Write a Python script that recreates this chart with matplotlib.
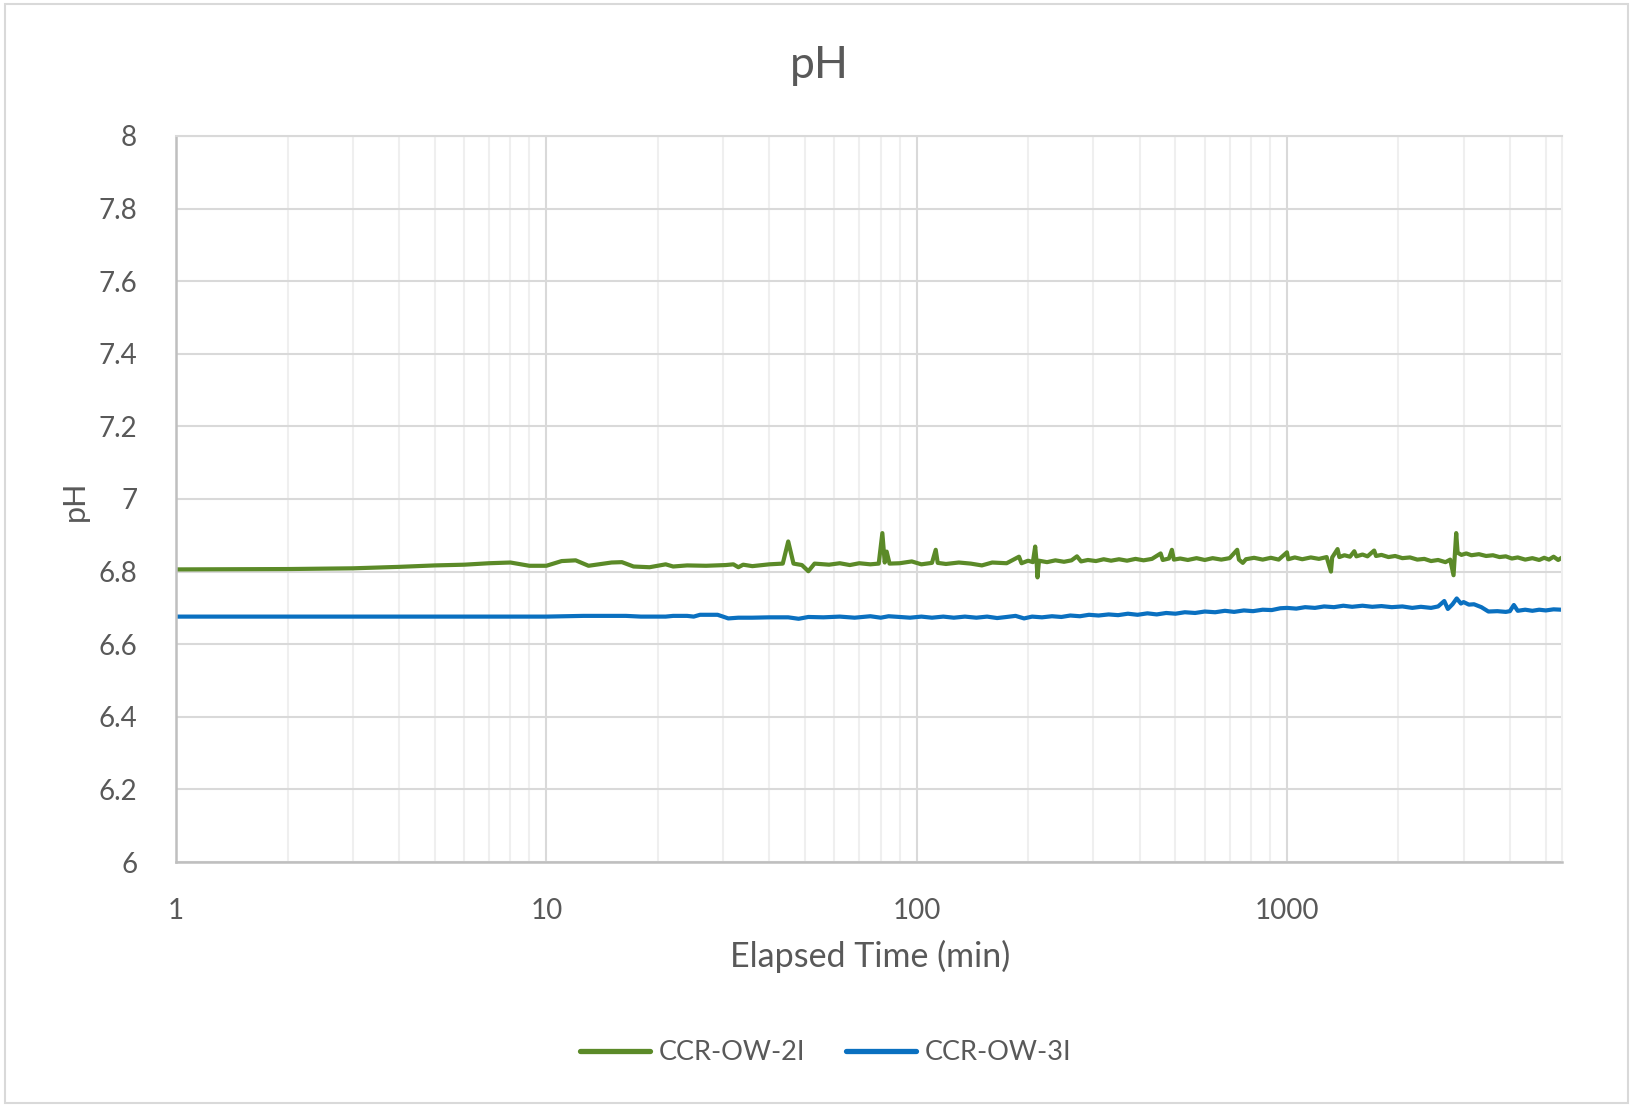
import matplotlib
matplotlib.use("Agg")
import matplotlib.pyplot as plt
from matplotlib.patches import Rectangle
from matplotlib.ticker import FixedLocator, FuncFormatter, LogLocator, NullFormatter

plt.rcParams['font.family'] = ['Lato', 'DejaVu Sans']

# Elapsed time (min) and pH readings
ow2_time = [1, 2, 3, 4, 5, 6, 7, 8, 9, 10, 11, 12, 13, 15, 16, 17.2, 19, 21, 22, 24,
            27, 30.5, 32, 33, 34, 36, 40, 43.5, 45, 46.5, 49, 51, 53, 58, 62, 66, 70,
            75, 79, 80.8, 82, 83, 84.5, 90, 97, 103, 110, 112.6, 114, 120, 130, 140,
            150, 160, 175, 189, 192, 200, 206, 209, 211, 212, 214, 225, 237, 250, 262,
            271, 278, 290, 305, 320, 335, 352, 370, 390, 410, 432, 456, 462, 480, 489,
            495, 515, 540, 570, 600, 630, 665, 700, 734, 742, 760, 775, 815, 860, 905,
            950, 1000, 1008, 1050, 1100, 1160, 1220, 1280, 1315, 1325, 1370, 1385, 1430,
            1480, 1520, 1540, 1600, 1650, 1720, 1740, 1800, 1880, 1960, 2050, 2150, 2250,
            2350, 2450, 2560, 2680, 2760, 2818, 2865, 2890, 2960, 3050, 3150, 3300, 3450,
            3600, 3750, 3900, 4050, 4200, 4400, 4600, 4800, 4950, 5100, 5250, 5400, 5500]
ow2_ph = [6.806, 6.807, 6.809, 6.813, 6.817, 6.819, 6.823, 6.825, 6.816, 6.816, 6.829,
          6.831, 6.816, 6.825, 6.826, 6.814, 6.812, 6.820, 6.814, 6.817, 6.816, 6.818,
          6.820, 6.812, 6.819, 6.815, 6.820, 6.822, 6.883, 6.822, 6.818, 6.801, 6.822,
          6.819, 6.823, 6.818, 6.823, 6.820, 6.822, 6.906, 6.825, 6.855, 6.822, 6.823,
          6.828, 6.820, 6.824, 6.860, 6.824, 6.821, 6.825, 6.822, 6.817, 6.825, 6.823,
          6.841, 6.823, 6.830, 6.826, 6.869, 6.822, 6.784, 6.830, 6.826, 6.831, 6.827,
          6.831, 6.842, 6.828, 6.832, 6.829, 6.834, 6.830, 6.834, 6.830, 6.835, 6.831,
          6.835, 6.850, 6.832, 6.836, 6.860, 6.833, 6.836, 6.832, 6.837, 6.832, 6.837,
          6.833, 6.837, 6.860, 6.833, 6.824, 6.834, 6.838, 6.833, 6.838, 6.833, 6.853,
          6.834, 6.839, 6.834, 6.839, 6.835, 6.840, 6.800, 6.839, 6.862, 6.840, 6.845,
          6.841, 6.856, 6.842, 6.847, 6.842, 6.858, 6.843, 6.846, 6.840, 6.843, 6.837,
          6.839, 6.833, 6.835, 6.829, 6.832, 6.826, 6.833, 6.790, 6.906, 6.852, 6.846,
          6.850, 6.845, 6.848, 6.843, 6.845, 6.840, 6.842, 6.836, 6.839, 6.833, 6.837,
          6.832, 6.838, 6.833, 6.841, 6.832, 6.837]

ow3_time = [1, 3, 10, 12.6, 16.4, 18, 21, 22, 24, 25, 26, 29, 30, 31, 33, 36, 40, 45,
            48, 51, 56, 62, 68, 75, 80, 84, 90, 96, 103, 110, 118, 126, 135, 145, 155,
            165, 175, 185, 195, 205, 218, 232, 246, 260, 276, 292, 310, 330, 350, 372,
            395, 420, 445, 472, 500, 530, 565, 600, 640, 680, 720, 765, 810, 860, 910,
            960, 1000, 1060, 1120, 1190, 1260, 1340, 1420, 1500, 1600, 1700, 1800, 1920,
            2050, 2180, 2300, 2450, 2560, 2660, 2720, 2800, 2874, 2950, 3000, 3100, 3200,
            3350, 3500, 3700, 3900, 4000, 4100, 4200, 4400, 4600, 4800, 5000, 5250, 5500]
ow3_ph = [6.676, 6.676, 6.676, 6.678, 6.678, 6.676, 6.676, 6.678, 6.678, 6.676, 6.681,
          6.681, 6.676, 6.671, 6.673, 6.673, 6.674, 6.674, 6.670, 6.675, 6.674, 6.676,
          6.673, 6.677, 6.673, 6.677, 6.675, 6.673, 6.676, 6.673, 6.676, 6.673, 6.676,
          6.673, 6.676, 6.672, 6.675, 6.678, 6.671, 6.676, 6.674, 6.677, 6.675, 6.679,
          6.677, 6.681, 6.679, 6.682, 6.680, 6.684, 6.681, 6.685, 6.682, 6.686, 6.684,
          6.688, 6.686, 6.690, 6.688, 6.692, 6.689, 6.693, 6.691, 6.695, 6.694, 6.699,
          6.700, 6.698, 6.702, 6.700, 6.704, 6.702, 6.706, 6.703, 6.706, 6.703, 6.705,
          6.702, 6.704, 6.700, 6.703, 6.700, 6.704, 6.719, 6.697, 6.710, 6.726, 6.712,
          6.716, 6.709, 6.710, 6.702, 6.690, 6.691, 6.689, 6.691, 6.708, 6.692, 6.695,
          6.692, 6.695, 6.693, 6.696, 6.695]

x_ticks = [1, 10, 100, 1000]
y_ticks = [6, 6.2, 6.4, 6.6, 6.8, 7, 7.2, 7.4, 7.6, 7.8, 8]

text_color = '#595959'

fig = plt.figure(figsize=(16.33, 11.07), dpi=100)
fig.patches.append(Rectangle((0.003, 0.004), 0.994, 0.992, transform=fig.transFigure,
                             fill=False, edgecolor='#d9d9d9', linewidth=1.5))
ax = fig.add_axes([0.1078, 0.2213, 0.8487, 0.6559])

ax.plot(ow2_time, ow2_ph, color='#5b8a28', linewidth=3.0, label='CCR-OW-2I')
ax.plot(ow3_time, ow3_ph, color='#0a70c0', linewidth=3.0, label='CCR-OW-3I')

ax.set_xscale('log')
ax.set_xlim(1, 5530)
ax.set_ylim(6, 8)
ax.xaxis.set_major_locator(FixedLocator(x_ticks))
ax.xaxis.set_major_formatter(FuncFormatter(lambda v, p: f"{v:g}"))
ax.xaxis.set_minor_locator(LogLocator(base=10, subs=range(2, 10)))
ax.xaxis.set_minor_formatter(NullFormatter())
ax.yaxis.set_major_locator(FixedLocator(y_ticks))
ax.yaxis.set_major_formatter(FuncFormatter(lambda v, p: f"{v:g}"))

ax.grid(True, which='major', color='#d9d9d9', linewidth=1.5)
ax.grid(True, which='minor', axis='x', color='#efefef', linewidth=1.5)
ax.set_axisbelow(True)

ax.tick_params(axis='both', which='both', length=0, labelsize=20, labelcolor=text_color)
ax.tick_params(axis='y', pad=28)
ax.tick_params(axis='x', pad=26)

for side in ['left', 'bottom']:
    ax.spines[side].set_color('#bfbfbf')
    ax.spines[side].set_linewidth(1.8)
ax.spines['top'].set_color('#d9d9d9')
ax.spines['top'].set_linewidth(1.5)
ax.spines['right'].set_color('#efefef')
ax.spines['right'].set_linewidth(1.5)

fig.text(0.5015, 0.941, 'pH', ha='center', va='center', fontsize=32, color=text_color)
fig.text(0.046, 0.548, 'pH', ha='center', va='center', rotation=90, fontsize=22,
         color=text_color)
fig.text(0.533, 0.136, 'Elapsed Time (min)', ha='center', va='center', fontsize=24.5,
         color=text_color)

leg = fig.legend(loc='center', bbox_to_anchor=(0.5055, 0.049), ncol=2, frameon=False,
                 fontsize=19.5, handlelength=2.6, handletextpad=0.3, columnspacing=1.5)
for t in leg.get_texts():
    t.set_color(text_color)
for h in leg.get_lines():
    h.set_linewidth(3.8)
    h.set_solid_capstyle('round')

fig.savefig('out.png', dpi=100)
